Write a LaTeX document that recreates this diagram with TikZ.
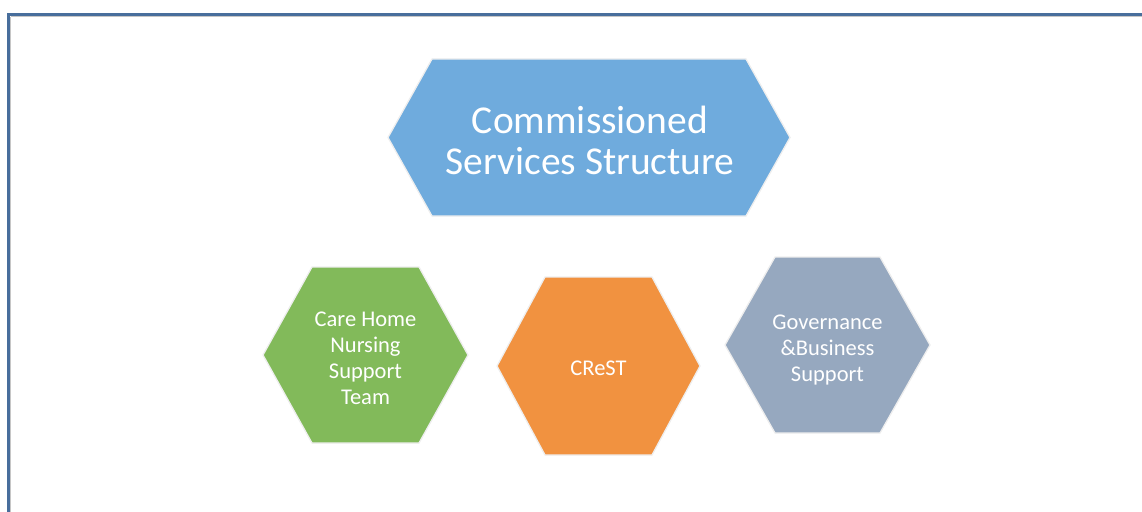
\documentclass[tikz,border=0pt]{standalone}
\usepackage{fontspec}
\setmainfont{Carlito}
\usetikzlibrary{positioning,calc}
\definecolor{frameblue}{RGB}{72,110,156}
\definecolor{topblue}{RGB}{111,171,221}
\definecolor{careGreen}{RGB}{130,186,90}
\definecolor{crestOrange}{RGB}{241,146,64}
\definecolor{govGray}{RGB}{150,168,191}
\definecolor{hexrim}{RGB}{238,238,238}
\tikzset{
  frameln/.style={draw=frameblue, line width=3pt},
  hexfill/.style={draw=hexrim, line width=1.3pt, line join=miter},
  hextext/.style={text=white, align=center, inner sep=0pt,
    font=\fontsize{22.5}{26}\selectfont},
  titletext/.style={hextext, font=\fontsize{39.5}{41}\selectfont},
}
% #1 name, #2 #3 centre, #4 half width, #5 inset, #6 half height, #7 colour
\newcommand{\hexpatch}[7]{%
  \filldraw[hexfill, fill=#7]
    (#2-#4,#3) -- (#2-#4+#5,#3-#6) -- (#2+#4-#5,#3-#6)
    -- (#2+#4,#3) -- (#2+#4-#5,#3+#6) -- (#2-#4+#5,#3+#6) -- cycle;
  \coordinate (#1) at (#2,#3);
}

\begin{document}
\begin{tikzpicture}[x=1pt, y=-1pt]
  \useasboundingbox (0,0) rectangle (1142,511);
  \clip (0,0) rectangle (1142,511);
  % page frame, runs off right and bottom
  \draw[frameln] (8.5,14.5) rectangle (1160,530);
  \draw[gray!45, line width=0.8pt] (10.6,16.6) -- (1160,16.6);
  \draw[gray!45, line width=0.8pt] (10.6,16.6) -- (10.6,530);
  % hexagons
  \hexpatch{top}{589}{137.5}{201}{44}{78.5}{topblue}
  \hexpatch{care}{365.5}{355}{102.5}{49}{88}{careGreen}
  \hexpatch{crest}{598.5}{366}{101.5}{48}{89}{crestOrange}
  \hexpatch{gov}{827.5}{345}{102.5}{50}{88}{govGray}
  % labels
  \node[titletext] (topLbl) at ($(top)+(1,3)$) {Commissioned\\Services Structure};
  \node[hextext] (careLbl) at ($(care)+(0,3)$) {Care Home\\Nursing\\Support\\Team};
  \node[hextext] (crestLbl) at ($(crest)+(0,2)$) {CReST};
  \node[hextext] (govLbl) at ($(gov)+(0,5)$) {Governance\\\&Business\\Support};
\end{tikzpicture}
\end{document}
